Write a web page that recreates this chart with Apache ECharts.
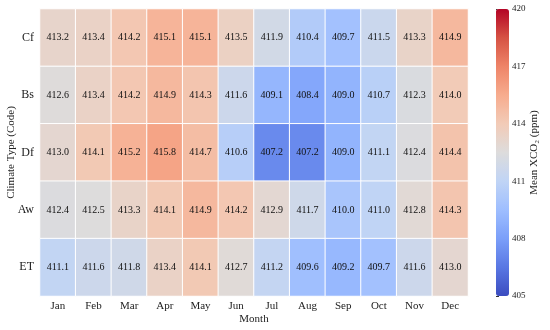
<!DOCTYPE html>
<html><head><meta charset="utf-8">
<script src="https://cdn.jsdelivr.net/npm/echarts@6/dist/echarts.min.js"></script>
<style>html,body{margin:0;padding:0;background:#fff}#c{width:550px;height:330px}</style>
</head><body><div id="c"></div>
<script>
const months = ['Jan','Feb','Mar','Apr','May','Jun','Jul','Aug','Sep','Oct','Nov','Dec'];
const climates = ['Cf','Bs','Df','Aw','ET'];
const Cf = [413.2,413.4,414.2,415.1,415.1,413.5,411.9,410.4,409.7,411.5,413.3,414.9];
const Bs = [412.6,413.4,414.2,414.9,414.3,411.6,409.1,408.4,409.0,410.7,412.3,414.0];
const Df = [413.0,414.1,415.2,415.8,414.7,410.6,407.2,407.2,409.0,411.1,412.4,414.4];
const Aw = [412.4,412.5,413.3,414.1,414.9,414.2,412.9,411.7,410.0,411.0,412.8,414.3];
const ET = [411.1,411.6,411.8,413.4,414.1,412.7,411.2,409.6,409.2,409.7,411.6,413.0];
const colorTicks = [405,408,411,414,417,420];
const rows = [Cf,Bs,Df,Aw,ET];
const data = [];
rows.forEach((r,i)=>r.forEach((v,j)=>data.push([j,i,v])));
const coolwarm = ['#3b4cc0','#5977e3','#7b9ff9','#9ebeff','#c0d4f5','#dddcdc','#f2cbb7','#f7ac8e','#ee8468','#d65244','#b40426'];
const font = 'Liberation Serif';
const chart = echarts.init(document.getElementById('c'));
chart.setOption({
  backgroundColor:'#fff',
  textStyle:{fontFamily:font},
  grid:[
    {left:40,right:82,top:9,bottom:34,outerBoundsMode:'none',containLabel:false},
    {left:496,width:13,top:9,height:287,outerBoundsMode:'none',containLabel:false}
  ],
  xAxis:[
    {type:'category',data:months,gridIndex:0,axisLine:{show:false},axisTick:{show:false},
     axisLabel:{fontFamily:font,fontSize:11,color:'#222',margin:5},nameMoveOverlap:false,
     name:'Month',nameLocation:'middle',nameGap:18,nameTextStyle:{fontFamily:font,fontSize:11,color:'#222'},splitLine:{show:false}},
    {type:'value',gridIndex:1,show:false,min:0,max:1}
  ],
  yAxis:[
    {type:'category',data:climates,inverse:true,gridIndex:0,axisLine:{show:false},axisTick:{show:false},
     axisLabel:{fontFamily:font,fontSize:12,color:'#222',margin:6},nameMoveOverlap:false,
     name:'Climate Type (Code)',nameLocation:'middle',nameGap:23,nameTextStyle:{fontFamily:font,fontSize:11,color:'#222'},splitLine:{show:false}},
    {type:'value',gridIndex:1,position:'right',min:colorTicks[0],max:colorTicks[colorTicks.length-1],interval:3,
     axisLine:{show:false},axisTick:{show:true,length:3,lineStyle:{color:'#333'}},splitLine:{show:false},
     axisLabel:{fontFamily:font,fontSize:9,color:'#222',margin:3},nameMoveOverlap:false,
     name:'Mean XCO₂ (ppm)',nameLocation:'middle',nameRotate:90,nameGap:20,nameTextStyle:{fontFamily:font,fontSize:11,color:'#222'}}
  ],
  visualMap:{type:'continuous',min:405,max:420,calculable:false,show:true,seriesIndex:0,
    left:496,top:9,itemWidth:13,itemHeight:287,padding:0,text:null,showLabel:false,
    inRange:{color:coolwarm}},
  series:[
    {type:'heatmap',xAxisIndex:0,yAxisIndex:0,data:data,
     itemStyle:{borderColor:'#fff',borderWidth:1},
     label:{show:true,fontFamily:font,fontSize:10,color:'#111',formatter:p=>p.value[2].toFixed(1)}},
    {type:'scatter',xAxisIndex:1,yAxisIndex:1,data:[],silent:true}
  ]
});
</script></body></html>
